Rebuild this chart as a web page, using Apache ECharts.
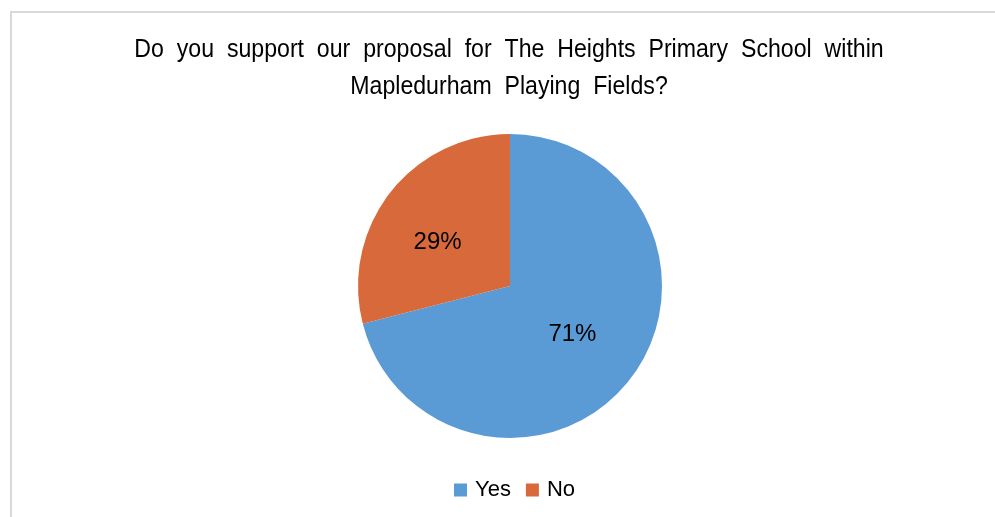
<!DOCTYPE html>
<html><head><meta charset="utf-8">
<script src="https://cdn.jsdelivr.net/npm/echarts@6/dist/echarts.min.js"></script>
<style>html,body{margin:0;padding:0;background:#fff}#c{width:995px;height:517px}</style>
</head><body><div id="c"></div>
<script>
const titleLines = ["Do  you  support  our  proposal  for  The  Heights  Primary  School  within", "Mapledurham  Playing  Fields?"];
const categories = ["Yes", "No"];
const values = [71, 29];
const colors = ["#5B9BD5", "#D7693B"];

const titleGraphics = titleLines.map((t, i) => ({
  type: 'text', x: 509, y: 50 + i * 37, scaleX: 0.925, silent: true,
  style: {text: t, x: 0, y: 0, align: 'center', verticalAlign: 'middle',
          font: 'normal 25px "Liberation Sans"', fill: '#000'}
}));

const chart = echarts.init(document.getElementById('c'), null, {renderer: 'canvas'});
chart.setOption({
  backgroundColor: '#fff',
  animation: false,
  graphic: [{
    type: 'rect', shape: {x: 11, y: 12, width: 1000, height: 600},
    style: {fill: 'none', stroke: '#d9d9d9', lineWidth: 2}, silent: true
  }].concat(titleGraphics),
  legend: {
    top: 474, left: 449, itemWidth: 13, itemHeight: 13, itemGap: 15,
    icon: 'rect',
    textStyle: {fontFamily: 'Liberation Sans', fontSize: 22, color: '#000', padding: [0,0,0,3]},
    data: categories
  },
  series: [{
    type: 'pie', center: [510, 286], radius: 152, startAngle: 90, clockwise: true,
    label: {show: true, position: 'inside', formatter: '{c}%', fontFamily: 'Liberation Sans', fontSize: 24, color: '#000'},
    labelLine: {show: false},
    itemStyle: {borderWidth: 0},
    emphasis: {disabled: true},
    data: categories.map((c, i) => ({name: c, value: values[i], itemStyle: {color: colors[i]},
      label: i === 1 ? {offset: [-10, 5]} : {}}))
  }]
});
</script></body></html>
